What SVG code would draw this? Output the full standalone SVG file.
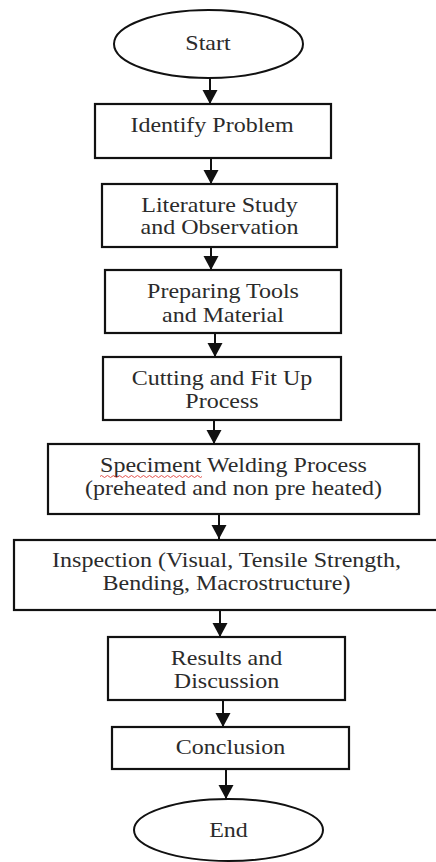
<svg xmlns="http://www.w3.org/2000/svg" width="436" height="862" viewBox="0 0 436 862">
<style>
.box{fill:#fff;stroke:#111;stroke-width:2.2}
.term{fill:#fff;stroke:#111;stroke-width:2}
.lbl{font-family:"Liberation Serif","Times New Roman",serif;font-size:20px;fill:#2b2b2b;text-anchor:middle}
.con{stroke:#111;stroke-width:2;fill:none;marker-end:url(#ah)}
</style>
<defs>
<marker id="ah" markerUnits="userSpaceOnUse" markerWidth="16" markerHeight="16" refX="14" refY="7.5" orient="auto">
<path d="M0,0 L14,7.5 L0,15 z" fill="#111"/>
</marker>
</defs>
<rect width="436" height="862" fill="#fff"/>
<g id="connectors">
<line class="con" x1="210" y1="78" x2="210" y2="104"/>
<line class="con" x1="211" y1="158" x2="211" y2="184"/>
<line class="con" x1="211" y1="247" x2="211" y2="270"/>
<line class="con" x1="215" y1="333" x2="215" y2="357"/>
<line class="con" x1="214" y1="420" x2="214" y2="444"/>
<line class="con" x1="219" y1="514" x2="219" y2="539"/>
<line class="con" x1="220" y1="610" x2="220" y2="637"/>
<line class="con" x1="223" y1="700" x2="223" y2="727"/>
<line class="con" x1="226" y1="769" x2="226" y2="799"/>
</g>
<g id="start">
<ellipse class="term" cx="208.5" cy="44" rx="94.5" ry="34"/>
<text class="lbl" transform="translate(208 50) scale(1.2 1)">Start</text>
</g>
<g id="identify">
<rect class="box" x="95" y="104" width="236" height="54"/>
<text class="lbl" transform="translate(212 132) scale(1.2 1)">Identify Problem</text>
</g>
<g id="literature">
<rect class="box" x="102" y="184" width="235" height="63"/>
<text class="lbl" transform="translate(219.5 212) scale(1.2 1)">Literature Study</text>
<text class="lbl" transform="translate(219.5 234) scale(1.2 1)">and Observation</text>
</g>
<g id="preparing">
<rect class="box" x="105" y="270" width="236" height="63"/>
<text class="lbl" transform="translate(223 298) scale(1.2 1)">Preparing Tools</text>
<text class="lbl" transform="translate(223 322) scale(1.2 1)">and Material</text>
</g>
<g id="cutting">
<rect class="box" x="103" y="357" width="238" height="63"/>
<text class="lbl" transform="translate(222 385) scale(1.2 1)">Cutting and Fit Up</text>
<text class="lbl" transform="translate(222 408) scale(1.2 1)">Process</text>
</g>
<g id="welding">
<rect class="box" x="48" y="444" width="371" height="70"/>
<text class="lbl" transform="translate(233.5 472) scale(1.2 1)">Speciment Welding Process</text>
<path d="M100,476.5 q1.5,-2 3,0 t3,0 t3,0 t3,0 t3,0 t3,0 t3,0 t3,0 t3,0 t3,0 t3,0 t3,0 t3,0 t3,0 t3,0 t3,0 t3,0 t3,0 t3,0 t3,0 t3,0 t3,0 t3,0 t3,0 t3,0 t3,0 t3,0 t3,0 t3,0 t3,0 t3,0 t3,0 t3,0 t3,0" fill="none" stroke="#e0413a" stroke-width="0.9"/>
<text class="lbl" transform="translate(233.5 495) scale(1.2 1)">(preheated and non pre heated)</text>
</g>
<g id="inspection">
<rect class="box" x="14" y="540" width="426" height="70"/>
<text class="lbl" transform="translate(226.5 567) scale(1.2 1)">Inspection (Visual, Tensile Strength,</text>
<text class="lbl" transform="translate(226.5 590) scale(1.2 1)">Bending, Macrostructure)</text>
</g>
<g id="results">
<rect class="box" x="108" y="637" width="237" height="63"/>
<text class="lbl" transform="translate(226.5 665) scale(1.2 1)">Results and</text>
<text class="lbl" transform="translate(226.5 688) scale(1.2 1)">Discussion</text>
</g>
<g id="conclusion">
<rect class="box" x="112" y="727" width="237" height="42"/>
<text class="lbl" transform="translate(230.5 754) scale(1.2 1)">Conclusion</text>
</g>
<g id="end">
<ellipse class="term" cx="228.5" cy="830" rx="94.5" ry="31"/>
<text class="lbl" transform="translate(228.5 837) scale(1.2 1)">End</text>
</g>
</svg>
